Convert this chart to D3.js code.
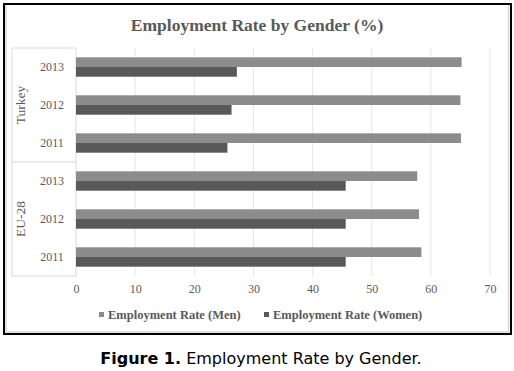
<!DOCTYPE html>
<html>
<head>
<meta charset="utf-8">
<script src="https://cdn.jsdelivr.net/npm/d3@7"></script>
<style>
  body { margin: 0; background: #fff; }
  .serif { font-family: "Liberation Serif", "Times New Roman", serif; }
</style>
</head>
<body>
<div id="chart"></div>
<script>
// chart values
var groups = ["Turkey", "EU-28"];
var years = ["2013", "2012", "2011"];
var seriesNames = ["Employment Rate (Men)", "Employment Rate (Women)"];
var turkeyMen = [65.2, 65.0, 65.1];
var turkeyWomen = [27.2, 26.3, 25.6];
var euMen = [57.7, 58.0, 58.4];
var euWomen = [45.6, 45.6, 45.6];
var xTicks = [0, 10, 20, 30, 40, 50, 60, 70];

var colors = ["#8c8c8c", "#595959"];
var textColor = "#595959";

var svgWidth = 514;
var svgHeight = 371;

var svg = d3.select("#chart")
  .append("svg")
  .attr("width", svgWidth)
  .attr("height", svgHeight);

// build rows: one per group/year
var rows = [];
groups.forEach(function(g, gi) {
  years.forEach(function(y, yi) {
    var men = gi == 0 ? turkeyMen[yi] : euMen[yi];
    var women = gi == 0 ? turkeyWomen[yi] : euWomen[yi];
    rows.push({ key: g + "-" + y, group: g, year: y, values: [men, women] });
  });
});

var plotTop = 48, plotBottom = 276;
var xScale = d3.scaleLinear().domain([0, 70]).range([76, 490]);
var yScale = d3.scaleBand()
  .domain(rows.map(d => d.key))
  .range([plotTop, plotBottom])
  .padding(0);
var step = yScale.bandwidth();
var ySub = d3.scaleBand()
  .domain([0, 1])
  .range([step * 0.245, step * 0.755])
  .padding(0);

// outer frame
svg.append("rect")
  .attr("x", 4).attr("y", 4)
  .attr("width", 507).attr("height", 330)
  .attr("fill", "none")
  .attr("stroke", "#000")
  .attr("stroke-width", 2);
svg.append("path")
  .attr("d", "M6,5V332H508.5V5")
  .attr("fill", "none")
  .attr("stroke", "#d6d6d6")
  .attr("stroke-width", 1.5);

// title
svg.append("text")
  .attr("class", "serif")
  .attr("x", 257)
  .attr("y", 31)
  .attr("text-anchor", "middle")
  .style("font-size", "17.5px")
  .style("font-weight", "bold")
  .attr("fill", textColor)
  .text("Employment Rate by Gender (%)");

// gridlines
svg.append("g")
  .selectAll("line")
  .data(xTicks)
  .enter()
  .append("line")
  .attr("x1", d => xScale(d))
  .attr("x2", d => xScale(d))
  .attr("y1", plotTop)
  .attr("y2", plotBottom)
  .attr("stroke", d => d == 0 ? "#d9d9d9" : "#e6e6e6")
  .attr("stroke-width", 1);

// x axis labels
var xAxis = d3.axisBottom(xScale).tickValues(xTicks).tickSize(0).tickPadding(0);
var xg = svg.append("g")
  .attr("transform", "translate(0," + 284 + ")")
  .call(xAxis);
xg.select(".domain").remove();
xg.selectAll("text")
  .attr("class", "serif")
  .style("font-size", "12px")
  .attr("fill", textColor);

// category box on the left
var boxLeft = 12;
var cat = svg.append("g").attr("stroke", "#d9d9d9").attr("stroke-width", 1);
cat.append("line").attr("x1", boxLeft).attr("x2", boxLeft).attr("y1", plotTop).attr("y2", plotBottom);
cat.append("line").attr("x1", boxLeft).attr("x2", xScale(0)).attr("y1", plotTop).attr("y2", plotTop);
cat.append("line").attr("x1", boxLeft).attr("x2", xScale(0)).attr("y1", plotBottom).attr("y2", plotBottom);
cat.append("line").attr("x1", boxLeft).attr("x2", xScale(0))
  .attr("y1", yScale(rows[3].key)).attr("y2", yScale(rows[3].key));

// year labels
svg.append("g")
  .selectAll("text")
  .data(rows)
  .enter()
  .append("text")
  .attr("class", "serif")
  .attr("x", 52)
  .attr("y", d => yScale(d.key) + step / 2)
  .attr("dy", "0.35em")
  .attr("text-anchor", "middle")
  .style("font-size", "12px")
  .attr("fill", textColor)
  .text(d => d.year);

// group labels (rotated)
svg.append("g")
  .selectAll("text")
  .data(groups)
  .enter()
  .append("text")
  .attr("class", "serif")
  .attr("transform", function(g, gi) {
    var cy = yScale(rows[gi * 3 + 1].key) + step / 2;
    return "translate(20," + cy + ") rotate(-90)";
  })
  .attr("dy", "0.35em")
  .attr("text-anchor", "middle")
  .style("font-size", "13.5px")
  .attr("fill", textColor)
  .text(d => d);

// bars
var rowG = svg.append("g")
  .selectAll("g")
  .data(rows)
  .enter()
  .append("g")
  .attr("transform", d => "translate(0," + yScale(d.key) + ")");

rowG.selectAll("rect")
  .data(d => d.values)
  .enter()
  .append("rect")
  .attr("x", xScale(0))
  .attr("y", (d, i) => ySub(i))
  .attr("width", d => xScale(d) - xScale(0))
  .attr("height", ySub.bandwidth())
  .attr("fill", (d, i) => colors[i]);

// legend
var legendX = [99, 264];
var legend = svg.append("g")
  .selectAll("g")
  .data(seriesNames)
  .enter()
  .append("g")
  .attr("transform", (d, i) => "translate(" + legendX[i] + ",315)");
legend.append("rect")
  .attr("x", 0).attr("y", -3)
  .attr("width", 5).attr("height", 5)
  .attr("fill", (d, i) => colors[i]);
legend.append("text")
  .attr("class", "serif")
  .attr("x", 9)
  .attr("dy", "0.35em")
  .style("font-size", "12.5px")
  .style("font-weight", "bold")
  .attr("fill", textColor)
  .text(d => d);

// caption below the chart
var caption = svg.append("text")
  .attr("x", 261)
  .attr("y", 364)
  .attr("text-anchor", "middle")
  .style("font-family", "'DejaVu Sans', Verdana, sans-serif")
  .style("font-size", "16px")
  .attr("fill", "#000");
caption.append("tspan").style("font-weight", "bold").text("Figure 1.");
caption.append("tspan").text(" Employment Rate by Gender.");
</script>
</body>
</html>
